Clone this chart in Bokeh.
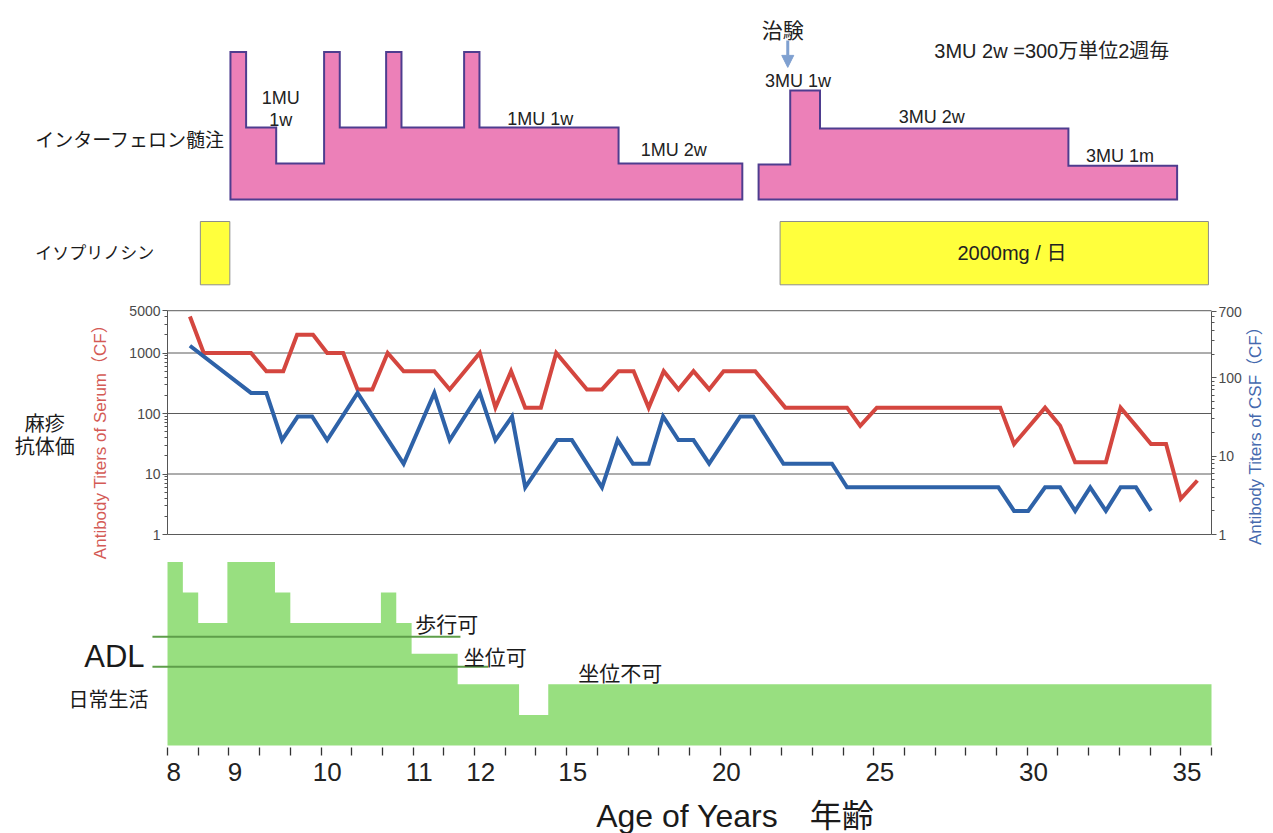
import numpy as np
from bokeh.plotting import figure
from bokeh.models import (Range1d, LogScale, LinearScale, LogAxis, LinearAxis, FixedTicker,
                          PrintfTickFormatter, Label, Arrow, NormalHead)
from bokeh.embed import file_html
from bokeh.resources import INLINE

# ---------------- data ----------------
# timeline positions (evenly spaced index); labelled ticks give the age in years
n_ticks = 35
tick_pos = [0, 2, 5, 8, 10, 13, 18, 23, 28, 33]
tick_labels = ["8", "9", "10", "11", "12", "15", "20", "25", "30", "35"]

# measles antibody titers of serum (CF), left log axis
serum_t = [0.73, 1.18, 2.72, 3.22, 3.77, 4.22, 4.74, 5.2, 5.72, 6.19, 6.67, 7.17, 7.69, 8.69,
           9.19, 10.17, 10.68, 11.19, 11.65, 12.16, 12.66, 13.66, 14.15, 14.69, 15.18, 15.67,
           16.16, 16.64, 17.13, 17.64, 18.11, 19.14, 20.12, 22.13, 22.56, 23.1, 27.12, 27.57,
           28.58, 29.07, 29.56, 30.56, 31.04, 31.54, 32.03, 32.52, 33.0, 33.54]
serum_titer = [4000, 1000, 1000, 500, 500, 2000, 2000, 1000, 1000, 250, 250, 1000, 500, 500,
               250, 1000, 125, 500, 125, 125, 1000, 250, 250, 500, 500, 125,
               500, 250, 500, 250, 500, 500, 125, 125, 62.5, 125, 125, 31.25,
               125, 62.5, 15.6, 15.6, 125, 62.5, 31.25, 31.25, 3.9, 7.8]

# measles antibody titers of CSF (CF), right log axis
csf_t = [0.73, 2.72, 3.22, 3.73, 4.24, 4.71, 5.2, 6.19, 7.69, 8.69, 9.19, 10.17, 10.68, 11.22,
         11.65, 12.69, 13.17, 14.15, 14.66, 15.16, 15.67, 16.14, 16.64, 17.13, 17.64, 18.65,
         19.08, 20.06, 21.64, 22.13, 27.06, 27.57, 28.03, 28.58, 29.07, 29.56, 30.05, 30.56,
         31.04, 31.54, 32.03]
csf_titer = [256, 64, 64, 16, 32, 32, 16, 64, 8, 64, 16, 64, 16, 32,
             4, 16, 16, 4, 16, 8, 8, 32, 16, 16, 8, 32,
             32, 8, 8, 4, 4, 2, 2, 4, 4, 2, 4, 2,
             4, 4, 2]

# intrathecal interferon: step edges and relative dose-intensity levels
ifn1_edges = [2.05, 2.56, 3.54, 5.10, 5.61, 7.12, 7.62, 9.66, 10.16, 14.69, 18.72]
ifn1_levels = [4.1, 2.0, 1.0, 4.1, 2.0, 4.1, 2.0, 4.1, 2.0, 1.0]
ifn2_edges = [19.25, 20.28, 21.25, 29.34, 32.88]
ifn2_levels = [0.97, 3.03, 1.97, 0.94]

# isoprinosine periods
iso_start = [1.07, 19.95]
iso_end = [2.03, 33.9]

# ADL (activities of daily living) level
adl_edges = [0, 0.5, 1.0, 1.95, 3.5, 4.0, 6.95, 7.45, 7.95, 9.45, 11.45, 12.4, 34.0]
adl_levels = [6, 5, 4, 6, 5, 4, 5, 4, 3, 2, 1, 2]
adl_thresholds = [3.55, 2.57]
adl_threshold_end = [9.54, 10.44]

# ---------------- layout constants (page pixels) ----------------
W, H = 1273, 833
X0 = 167.0                 # page x of timeline start
T_MAX = 34.0
PX_T = 1044.0 / T_MAX      # pixels per timeline unit

IFN_BASE, IFN_UNIT = 199.0, 36.0
ISO_BASE, ISO_UNIT = 284.3, 63.3
LOG_ONE = 534.0
SER_DEC = 60.5
CSF_DEC = 78.38
ADL_BASE, ADL_UNIT = 745.0, 30.6


def lin_range(base, unit):
    return Range1d(-(H - base) / unit, base / unit)


def log_range(one, dec):
    return Range1d(10 ** (-(H - one) / dec), 10 ** (one / dec))


p = figure(width=W, height=H, output_backend="svg", toolbar_location=None,
           x_range=Range1d(-X0 / PX_T, (W - X0) / PX_T),
           y_range=lin_range(ADL_BASE, ADL_UNIT),
           x_axis_location=None, y_axis_location=None,
           min_border=0)
p.outline_line_color = None
p.grid.visible = False
p.background_fill_color = "white"
p.border_fill_color = "white"

p.extra_y_ranges = {
    "ifn": lin_range(IFN_BASE, IFN_UNIT),
    "iso": lin_range(ISO_BASE, ISO_UNIT),
    "serum": log_range(LOG_ONE, SER_DEC),
    "csf": log_range(LOG_ONE, CSF_DEC),
}
p.extra_y_scales = {"ifn": LinearScale(), "iso": LinearScale(),
                    "serum": LogScale(), "csf": LogScale()}

LATIN = "Liberation Sans, Noto Sans CJK JP"
CJK = "Noto Sans CJK JP"


def step_outline(edges, levels):
    xs, ys = [edges[0]], [0.0]
    for i, lv in enumerate(levels):
        xs += [edges[i], edges[i + 1]]
        ys += [lv, lv]
    xs.append(edges[-1])
    ys.append(0.0)
    return xs, ys


# ---------------- interferon ----------------
for e, l in ((ifn1_edges, ifn1_levels), (ifn2_edges, ifn2_levels)):
    xs, ys = step_outline(e, l)
    p.patch(xs, ys, fill_color="#EC80B8", line_color="#4E3D8F", line_width=2,
            line_join="miter", y_range_name="ifn")

# ---------------- isoprinosine ----------------
p.quad(left=iso_start, right=iso_end, bottom=0, top=1, fill_color="#FFFF3C",
       line_color="#8C8C8C", line_width=1, y_range_name="iso")

# ---------------- titers ----------------
grid_vals = [1, 10, 100, 1000, 5000]
p.segment(x0=[0] * len(grid_vals), x1=[T_MAX] * len(grid_vals), y0=grid_vals, y1=grid_vals,
          line_color="#5A5A5A", line_width=1, y_range_name="serum")
p.line(serum_t, serum_titer, line_color="#D4463F", line_width=4, line_join="miter",
       y_range_name="serum")
p.line(csf_t, csf_titer, line_color="#2E62A8", line_width=4, line_join="miter",
       y_range_name="csf")

minor_l = [m * 10 ** k for k in range(4) for m in range(2, 10) if m * 10 ** k < 5000]
laxis = LogAxis(y_range_name="serum", bounds=(1, 5000), fixed_location=0,
                ticker=FixedTicker(ticks=grid_vals, minor_ticks=minor_l),
                formatter=PrintfTickFormatter(format="%d"))
minor_r = [m * 10 ** k for k in range(3) for m in range(2, 10) if m * 10 ** k < 700]
raxis = LogAxis(y_range_name="csf", bounds=(1, 700), fixed_location=T_MAX,
                ticker=FixedTicker(ticks=[1, 10, 100, 700], minor_ticks=minor_r),
                formatter=PrintfTickFormatter(format="%d"))
for ax in (laxis, raxis):
    ax.axis_line_color = "#555555"
    ax.major_tick_line_color = "#555555"
    ax.minor_tick_line_color = "#555555"
    ax.major_tick_in = 0
    ax.major_tick_out = 5
    ax.minor_tick_in = 0
    ax.minor_tick_out = 3
    ax.major_label_text_font = "Liberation Sans"
    ax.major_label_text_font_size = "14px"
    ax.major_label_text_color = "#4A4A4A"
    ax.major_label_standoff = 2
p.add_layout(laxis, "left")
p.add_layout(raxis, "right")

# ---------------- ADL ----------------
axs, ays = step_outline(adl_edges, adl_levels)
p.patch(axs, ays, fill_color="#98DF80", line_color=None)
for lv, xe in zip(adl_thresholds, adl_threshold_end):
    p.add_layout(Arrow(x_start=-0.49, y_start=lv, x_end=xe, y_end=lv, end=None,
                       line_color="#5E9E4A", line_width=2))

# ---------------- x axis: tick marks + (slightly offset) labels ----------------
tick_axis = LinearAxis(ticker=FixedTicker(ticks=list(range(n_ticks))), fixed_location=0,
                       major_label_overrides={i: "" for i in range(n_ticks)})
tick_axis.axis_line_color = None
tick_axis.major_tick_in = -2
tick_axis.major_tick_out = 10
tick_axis.major_tick_line_color = "#333333"
tick_axis.major_tick_line_width = 1.3
p.add_layout(tick_axis, "below")

label_ticks = [tp + 0.2 for tp in tick_pos]
label_axis = LinearAxis(ticker=FixedTicker(ticks=label_ticks), fixed_location=0,
                        major_label_overrides=dict(zip(label_ticks, tick_labels)))
label_axis.axis_line_color = None
label_axis.major_tick_line_color = None
label_axis.major_tick_in = 0
label_axis.major_tick_out = 0
label_axis.major_label_text_font = "Liberation Sans"
label_axis.major_label_text_font_size = "26px"
label_axis.major_label_text_color = "#222222"
label_axis.major_label_standoff = 17
p.add_layout(label_axis, "below")

# ---------------- texts ----------------
texts = [
    # text, x, y, range, size, color, align, font, angle
    ("インターフェロン髄注", -4.31, 1.69, "ifn", 19, "#1A1A1A", "left", CJK, 0),
    ("イソプリノシン", -4.31, 0.52, "iso", 17, "#1A1A1A", "left", CJK, 0),
    ("1MU", 3.69, 2.81, "ifn", 18, "#222222", "center", LATIN, 0),
    ("1w", 3.69, 2.21, "ifn", 18, "#222222", "center", LATIN, 0),
    ("1MU 1w", 12.14, 2.24, "ifn", 18, "#222222", "center", LATIN, 0),
    ("1MU 2w", 16.49, 1.37, "ifn", 18, "#222222", "center", LATIN, 0),
    ("3MU 1w", 20.53, 3.29, "ifn", 18, "#222222", "center", LATIN, 0),
    ("3MU 2w", 24.89, 2.29, "ifn", 18, "#222222", "center", LATIN, 0),
    ("3MU 1m", 31.02, 1.22, "ifn", 18, "#222222", "center", LATIN, 0),
    ("3MU 2w =300万単位2週毎", 28.8, 4.12, "ifn", 20, "#222222", "center", LATIN, 0),
    ("治験", 20.04, 4.75, "ifn", 21, "#222222", "center", CJK, 0),
    ("2000mg / 日", 27.5, 0.5, "iso", 20, "#222222", "center", LATIN, 0),
    ("麻疹", -4.0, 71.8, "serum", 20, "#1A1A1A", "center", CJK, 0),
    ("抗体価", -4.0, 29.6, "serum", 20, "#1A1A1A", "center", CJK, 0),
    ("Antibody Titers of Serum（CF）", -2.18, 40, "serum", 17, "#D45A55", "center", LATIN, np.pi / 2),
    ("Antibody Titers of CSF（CF）", 35.43, 20.6, "csf", 17, "#4569AE", "center", LATIN, np.pi / 2),
    ("ADL", -1.73, 2.92, "default", 31, "#1A1A1A", "center", LATIN, 0),
    ("日常生活", -1.92, 1.55, "default", 20, "#1A1A1A", "center", CJK, 0),
    ("歩行可", 8.07, 3.99, "default", 21, "#1A1A1A", "left", CJK, 0),
    ("坐位可", 9.65, 2.94, "default", 21, "#1A1A1A", "left", CJK, 0),
    ("坐位不可", 13.38, 2.39, "default", 21, "#1A1A1A", "left", CJK, 0),
    ("Age of Years　年齢", 18.49, -2.32, "default", 32, "#1A1A1A", "center", LATIN, 0),
]
for txt, x, y, rng, size, color, align, font, ang in texts:
    p.add_layout(Label(x=x, y=y, text=txt, y_range_name=rng, text_font=font,
                       text_font_size=f"{size}px", text_color=color, text_align=align,
                       text_baseline="middle", angle=ang))

# trial start arrow
p.add_layout(Arrow(x_start=20.2, y_start=4.42, x_end=20.2, y_end=3.67, y_range_name="ifn",
                   line_color="#7FA0D0", line_width=3,
                   end=NormalHead(size=12, fill_color="#7FA0D0", line_color="#7FA0D0")))

open("out.html", "w").write(file_html(p, INLINE))
